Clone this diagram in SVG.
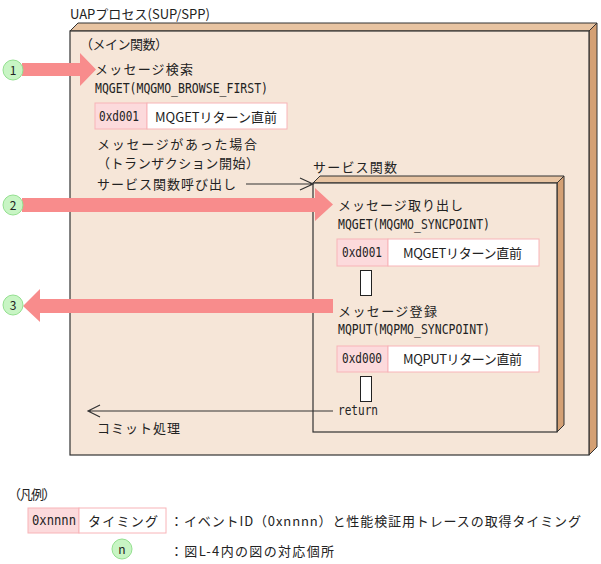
<svg xmlns="http://www.w3.org/2000/svg" width="601" height="564" viewBox="0 0 601 564">
<style>
text{font-family:"Noto Sans CJK JP","Liberation Sans",sans-serif;font-size:13px;fill:#222}
text.m{font-family:"DejaVu Sans Mono","Liberation Mono",monospace;font-size:13.5px}
.front{fill:#F6E6D8;stroke:#333;stroke-width:1.2}
.top{fill:#E8C4A2;stroke:#333;stroke-width:1}
.side{fill:#D4A074;stroke:#333;stroke-width:1}
.band{fill:#F88C8C}
.pink{fill:#FCDADC;stroke:#F8B4B8;stroke-width:1}
.white{fill:#fff;stroke:#F8B4B8;stroke-width:1}
.gap{fill:#fff;stroke:#222;stroke-width:1}
.num{fill:#C8F5C4;stroke:#94E090;stroke-width:1}
.ln{stroke:#333;stroke-width:1.2;fill:none}
.c{text-anchor:middle;font-size:12px}
</style>
<g id="uap-process">
<text x="70" y="19" textLength="140">UAPプロセス(SUP/SPP)</text>
<polygon class="top" points="70,31 78,23 597,23 589,31"/>
<polygon class="side" points="589,31 597,23 597,447 589,455"/>
<rect class="front" x="70" y="31" width="519" height="424"/>
<text x="80" y="49" textLength="88">（メイン関数）</text>
<text x="95" y="74" textLength="98">メッセージ検索</text>
<text class="m" x="95" y="93" textLength="173" lengthAdjust="spacingAndGlyphs">MQGET(MQGMO_BROWSE_FIRST)</text>
<text x="97" y="149" textLength="160">メッセージがあった場合</text>
<text x="97" y="168" textLength="162">（トランザクション開始）</text>
<text x="97" y="189" textLength="139">サービス関数呼び出し</text>
<text x="97" y="433" textLength="83">コミット処理</text>
</g>
<g id="trace-main">
<rect class="pink" x="95" y="103" width="52" height="26"/>
<rect class="white" x="147" y="103" width="140" height="26"/>
<text class="m" x="99" y="121" textLength="40" lengthAdjust="spacingAndGlyphs">0xd001</text>
<text x="155" y="122" textLength="122">MQGETリターン直前</text>
</g>
<g id="service-func">
<text x="313" y="172" textLength="84">サービス関数</text>
<polygon class="top" points="313,183 320,176 564,176 557,183"/>
<polygon class="side" points="557,183 564,176 564,425 557,432"/>
<rect class="front" x="313" y="183" width="244" height="249"/>
<text x="338" y="210" textLength="125">メッセージ取り出し</text>
<text class="m" x="338" y="229" textLength="152" lengthAdjust="spacingAndGlyphs">MQGET(MQGMO_SYNCPOINT)</text>
<text x="338" y="316" textLength="99">メッセージ登録</text>
<text class="m" x="338" y="334" textLength="152" lengthAdjust="spacingAndGlyphs">MQPUT(MQPMO_SYNCPOINT)</text>
<text class="m" x="338" y="415" textLength="40" lengthAdjust="spacingAndGlyphs">return</text>
</g>
<g id="trace-get">
<rect class="pink" x="337" y="239" width="51" height="27"/>
<rect class="white" x="388" y="239" width="151" height="27"/>
<text class="m" x="342" y="257" textLength="40" lengthAdjust="spacingAndGlyphs">0xd001</text>
<text x="403" y="258" textLength="119">MQGETリターン直前</text>
<rect class="gap" x="360.5" y="270.5" width="11" height="25"/>
</g>
<g id="trace-put">
<rect class="pink" x="337" y="346" width="51" height="26"/>
<rect class="white" x="388" y="346" width="151" height="26"/>
<text class="m" x="342" y="363" textLength="40" lengthAdjust="spacingAndGlyphs">0xd000</text>
<text x="403" y="364" textLength="119">MQPUTリターン直前</text>
<rect class="gap" x="360.5" y="376.5" width="11" height="25"/>
</g>
<g id="connectors">
<path class="ln" d="M246,184 H313 M300,178 L313,184 L300,190"/>
<path class="ln" d="M333,411 H88 M100,405 L88,411 L100,417"/>
<path class="band" d="M22,63 H80 V53 L96,69.5 L80,86 V76 H22 Z"/>
<path class="band" d="M22,198 H315 V188 L333,204.5 L315,221 V212 H22 Z"/>
<path class="band" d="M333,299 H40 V289 L23,306 L40,322 V313 H333 Z"/>
</g>
<g id="marker-1"><circle class="num" cx="13" cy="70" r="10"/><text class="c" x="13" y="74.5">1</text></g>
<g id="marker-2"><circle class="num" cx="13" cy="205" r="10"/><text class="c" x="13" y="209.5">2</text></g>
<g id="marker-3"><circle class="num" cx="13" cy="305" r="10"/><text class="c" x="13" y="309.5">3</text></g>
<g id="legend">
<text x="8" y="499" textLength="48">（凡例）</text>
<rect class="pink" x="28" y="508" width="51" height="25"/>
<rect class="white" x="79" y="508" width="87" height="25"/>
<text class="m" x="32" y="525" textLength="44" lengthAdjust="spacingAndGlyphs">0xnnnn</text>
<text x="88" y="526" textLength="70">タイミング</text>
<text x="170" y="526" textLength="411">：イベントID（0xnnnn）と性能検証用トレースの取得タイミング</text>
<circle class="num" cx="122" cy="549" r="10"/>
<text class="c" x="122" y="553.5">n</text>
<text x="170" y="556" textLength="164">：図L-4内の図の対応個所</text>
</g>
</svg>
